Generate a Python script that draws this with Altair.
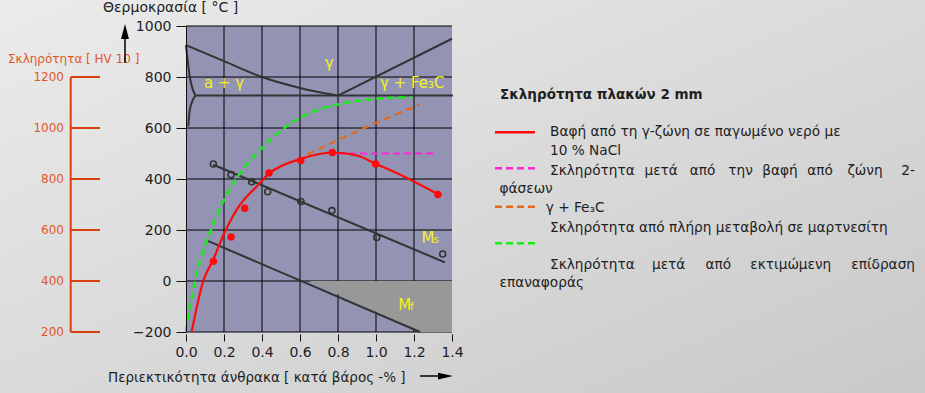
import altair as alt
import pandas as pd

FONT = "DejaVu Sans"

# ---------------- axis ticks ----------------
carbon_ticks = [0.0, 0.2, 0.4, 0.6, 0.8, 1.0, 1.2, 1.4]
carbon_grid = [0.2, 0.4, 0.6, 0.8, 1.0, 1.2]
temp_ticks = [-200, 0, 200, 400, 600, 800, 1000]
hv_ticks = [200, 400, 600, 800, 1000, 1200]
HV_SHIFT = 400  # 200 HV <-> -200 °C, 1200 HV <-> 800 °C

# ---------------- phase boundaries (°C) ----------------
a3_c = [0.0, 0.2, 0.4, 0.6, 0.8]
a3_t = [925, 862, 800, 757, 727]
acm_c = [0.8, 1.4]
acm_t = [727, 950]
eut_c = [0.05, 1.405]
eut_t = [727, 727]
ag_up_c = [0.0, 0.02, 0.05]
ag_up_t = [925, 800, 727]
ag_lo_c = [0.012, 0.02, 0.05]
ag_lo_t = [607, 672, 727]

ms_line_c = [0.144, 1.363]
ms_line_t = [456, 73]
ms_pts_c = [0.144, 0.237, 0.346, 0.43, 0.605, 0.768, 1.004, 1.351]
ms_pts_t = [459, 417, 389, 350, 312, 276, 171, 106]
mf_line_c = [0.109, 1.232]
mf_line_t = [159, -200]
mf_zone_c = [0.65, 1.232, 1.4]
mf_zone_top = [0, 0, 0]
mf_zone_bot = [0, -200, -200]

# ---------------- hardness (HV 10) ----------------
quench_pts_c = [0.144, 0.237, 0.309, 0.437, 0.604, 0.77, 0.998, 1.326]
quench_pts_hv = [477, 573, 685, 824, 873, 904, 859, 739]
quench_c = [0.03, 0.091, 0.144, 0.2, 0.267, 0.372, 0.442, 0.6, 0.77, 0.9, 1.0, 1.144, 1.33]
quench_hv = [202, 400, 485, 585, 680, 771, 824, 878, 904, 892, 859, 811, 739]
twophase_c = [0.8, 1.3]
twophase_hv = [900, 900]
fe3c_c = [0.64, 0.8, 1.0, 1.23]
fe3c_hv = [897, 953, 1020, 1092]
martensite_c = [0.0, 0.047, 0.1, 0.15, 0.2, 0.25, 0.3, 0.4, 0.53, 0.653, 0.8, 0.968, 1.19]
martensite_hv = [202, 400, 536, 635, 718, 785, 837, 922, 1007, 1059, 1092, 1112, 1121]

# ---------------- in-plot labels ----------------
zone_text = ["a + γ", "γ", "γ + Fe₃C"]
zone_c = [0.2, 0.753, 1.021]
zone_t = [755, 837, 757]
zone_align = ["center", "center", "left"]

# ---------------- texts ----------------
temp_title = "Θερμοκρασία [ °C ]"
hv_title = "Σκληρότητα [ HV 10 ]"
x_title = "Περιεκτικότητα άνθρακα [ κατά βάρος -% ]"
legend_title = "Σκληρότητα πλακών 2 mm"

# ---------------- style ----------------
W, H = 266, 306
PLOT_BG = "#9393b4"
GRAY = "#989898"
DARK = "#333333"
RED = "#ff0a0a"
GREEN = "#14ee14"
MAGENTA = "#ff26d4"
ORANGE = "#e36a1c"
YELLOW = "#f2f21c"
RED_AX = "#d9400e"
RED_TXT = "#e0582a"
TXT = "#1e1e1e"
FS = 14
LFS = 13.7

xs = alt.Scale(domain=[0, 1.4], nice=False, zero=False)
ys = alt.Scale(domain=[-200, 1000], nice=False, zero=False)
xax = alt.Axis(values=carbon_ticks, format=".1f", title=None, grid=False, domain=False,
               tickSize=7, tickColor="#111", tickWidth=1, offset=2, labelPadding=4,
               labelFont=FONT, labelFontSize=FS, labelColor=TXT, labelFlush=False,
               labelOverlap=False, zindex=1)
yax = alt.Axis(values=temp_ticks, format="d", title=None, grid=False, domain=True,
               domainColor="#111", domainWidth=1, tickSize=10, tickColor="#111",
               labelPadding=5, labelFont=FONT, labelFontSize=FS, labelColor=TXT,
               labelFlush=False, labelOverlap=False, zindex=1)


def X(f="c"):
    return alt.X(f"{f}:Q", scale=xs, axis=xax)


def Y(f="t"):
    return alt.Y(f"{f}:Q", scale=ys, axis=yax)


def one():
    return alt.InlineData(values=[{"k": 0}])


def ptxt(s, x, y, size=LFS, color=TXT, align="left", weight="normal", baseline="middle"):
    return alt.Chart(one()).mark_text(text=s, align=align, baseline=baseline, fontSize=size,
                                      font=FONT, color=color, fontWeight=weight).encode(
        x=alt.value(x), y=alt.value(y))


def hv_line(c, hv, color, dash=None, width=2.2):
    kw = dict(color=color, strokeWidth=width, interpolate="monotone")
    if dash:
        kw["strokeDash"] = dash
    return alt.Chart(pd.DataFrame({"c": c, "hv": hv})).transform_calculate(
        t=f"datum.hv - {HV_SHIFT}").mark_line(**kw).encode(x=X(), y=Y())


layers = []

# page background (gradient) and plot background
grad = alt.Gradient(gradient="linear", x1=0, y1=0, x2=1, y2=1,
                    stops=[alt.GradientStop(color="#ebebeb", offset=0),
                           alt.GradientStop(color="#c9c9c9", offset=1)])
layers.append(alt.Chart(one()).mark_rect(fill=grad).encode(
    x=alt.value(-186), x2=alt.value(739), y=alt.value(-26), y2=alt.value(367)))
layers.append(alt.Chart(one()).mark_rect(fill=PLOT_BG).encode(
    x=alt.value(0), x2=alt.value(W), y=alt.value(0), y2=alt.value(H)))

# grid
layers.append(alt.Chart(pd.DataFrame({"c": carbon_grid})).mark_rule(color="#000", strokeWidth=1).encode(
    x=X(), y=alt.value(0), y2=alt.value(H)))
layers.append(alt.Chart(pd.DataFrame({"t": temp_ticks})).mark_rule(color="#000", strokeWidth=1).encode(
    y=Y(), x=alt.value(0), x2=alt.value(W)))

# Mf zone
layers.append(alt.Chart(pd.DataFrame({"c": mf_zone_c, "t": mf_zone_top, "t2": mf_zone_bot}))
              .mark_area(color=GRAY, opacity=1, interpolate="linear")
              .encode(x=X(), y=Y(), y2=alt.Y2("t2:Q")))


# phase-diagram lines
def series(name, c, t):
    return pd.DataFrame({"c": c, "t": t, "s": name})


phase_df = pd.concat([
    series("A3", a3_c, a3_t), series("Acm", acm_c, acm_t), series("eut", eut_c, eut_t),
    series("ag_up", ag_up_c, ag_up_t), series("ag_lo", ag_lo_c, ag_lo_t),
    series("Ms", ms_line_c, ms_line_t), series("Mf", mf_line_c, mf_line_t),
], ignore_index=True)
layers.append(alt.Chart(phase_df).mark_line(color=DARK, strokeWidth=2, interpolate="monotone").encode(
    x=X(), y=Y(), detail="s:N"))

# hardness curves
layers.append(hv_line(martensite_c, martensite_hv, GREEN, [7, 4], 2.4))
layers.append(hv_line(fe3c_c, fe3c_hv, ORANGE, [7, 5], 2.2))
layers.append(hv_line(twophase_c, twophase_hv, MAGENTA, [7, 4], 2.2))
layers.append(hv_line(quench_c, quench_hv, RED, None, 2.2))

# points
layers.append(alt.Chart(pd.DataFrame({"c": ms_pts_c, "t": ms_pts_t})).mark_point(
    shape="circle", filled=False, color=DARK, strokeWidth=1.6, size=36, opacity=1).encode(x=X(), y=Y()))
layers.append(alt.Chart(pd.DataFrame({"c": quench_pts_c, "hv": quench_pts_hv})).transform_calculate(
    t=f"datum.hv - {HV_SHIFT}").mark_circle(color=RED, size=55, opacity=1).encode(x=X(), y=Y()))

# zone labels
for s, c, t, a in zip(zone_text, zone_c, zone_t, zone_align):
    layers.append(alt.Chart(pd.DataFrame({"c": [c], "t": [t]})).mark_text(
        text=s, align=a, baseline="alphabetic", fontSize=15, font=FONT, color=YELLOW).encode(x=X(), y=Y()))
# Ms / Mf with subscripts
for s, c, t, size in [("M", 1.24, 149, 15), ("s", 1.301, 149, 11),
                      ("M", 1.117, -112, 15), ("f", 1.179, -114, 11)]:
    layers.append(alt.Chart(pd.DataFrame({"c": [c], "t": [t]})).mark_text(
        text=s, align="left", baseline="alphabetic", fontSize=size, font=FONT, color=YELLOW).encode(x=X(), y=Y()))

# hardness axis (red), drawn through the shared temperature scale
hv_df = pd.DataFrame({"hv": hv_ticks})
layers.append(alt.Chart(hv_df).transform_calculate(t=f"datum.hv - {HV_SHIFT}").mark_rule(
    color=RED_AX, strokeWidth=2).encode(x=alt.value(-115.3), x2=alt.value(-86), y=Y()))
layers.append(alt.Chart(pd.DataFrame({"lo": [min(hv_ticks)], "hi": [max(hv_ticks)]})).transform_calculate(
    t=f"datum.lo - {HV_SHIFT}", t2=f"datum.hi - {HV_SHIFT}").mark_rule(
    color=RED_AX, strokeWidth=2).encode(x=alt.value(-115.3), y=Y(), y2=alt.Y2("t2:Q")))
layers.append(alt.Chart(hv_df).transform_calculate(t=f"datum.hv - {HV_SHIFT}").mark_text(
    align="right", baseline="middle", fontSize=12, font=FONT, color=RED_TXT).encode(
    x=alt.value(-122), y=Y(), text=alt.Text("hv:Q", format="d")))

# axis titles and arrows
layers.append(ptxt(hv_title, -178, 33, size=12, color=RED_TXT))
layers.append(ptxt(temp_title, -83, -18, size=FS))
layers.append(ptxt(x_title, -78, 356, size=13.5, baseline="alphabetic"))
layers.append(alt.Chart(one()).mark_rule(color="#000", strokeWidth=1.5).encode(
    x=alt.value(-61), y=alt.value(13), y2=alt.value(37)))
layers.append(alt.Chart(one()).mark_point(shape="M0,-1L0.53,1L-0.53,1Z", filled=True, size=225,
                                          color="#000", opacity=1, strokeWidth=0).encode(
    x=alt.value(-61), y=alt.value(5.5)))
layers.append(alt.Chart(one()).mark_rule(color="#000", strokeWidth=1.5).encode(
    x=alt.value(234), x2=alt.value(253), y=alt.value(350)))
layers.append(alt.Chart(one()).mark_point(shape="M1,0L-1,-0.45L-1,0.45Z", filled=True, size=225,
                                          color="#000", opacity=1, strokeWidth=0).encode(
    x=alt.value(259.5), y=alt.value(350)))

# legend
LX0, LX1 = 309, 349
layers.append(ptxt(legend_title, 314, 69, size=13.5, weight="bold"))
layers.append(alt.Chart(one()).mark_rule(color=RED, strokeWidth=2.5).encode(
    x=alt.value(LX0), x2=alt.value(LX1), y=alt.value(106.3)))
layers.append(alt.Chart(one()).mark_rule(color=MAGENTA, strokeWidth=2.5, strokeDash=[7, 4]).encode(
    x=alt.value(LX0), x2=alt.value(LX1), y=alt.value(142.3)))
layers.append(alt.Chart(one()).mark_rule(color=ORANGE, strokeWidth=2.5, strokeDash=[7, 4]).encode(
    x=alt.value(LX0), x2=alt.value(LX1), y=alt.value(180.7)))
layers.append(alt.Chart(one()).mark_rule(color=GREEN, strokeWidth=2.5, strokeDash=[7, 4]).encode(
    x=alt.value(LX0), x2=alt.value(LX1), y=alt.value(217.3)))

layers.append(ptxt("Βαφή από τη γ-ζώνη σε παγωμένο νερό με", 364, 106))
layers.append(ptxt("10 % NaCl", 364, 125))
lineA = ["Σκληρότητα", "μετά", "από", "την", "βαφή", "από", "ζώνη", "2-"]
lineA_x = [364, 475.2, 516.5, 554.5, 594, 634, 679, 729]
for i, (w, x) in enumerate(zip(lineA, lineA_x)):
    a = "left" if i == 0 else ("right" if i == len(lineA) - 1 else "center")
    layers.append(ptxt(w, x, 145, align=a))
layers.append(ptxt("φάσεων", 313.5, 163))
layers.append(ptxt("γ + Fe₃C", 359.7, 182.3))
layers.append(ptxt("Σκληρότητα από πλήρη μεταβολή σε μαρτνεσίτη", 364, 202.3))
lineB = ["Σκληρότητα", "μετά", "από", "εκτιμώμενη", "επίδραση"]
lineB_x = [364, 482.7, 532.3, 604.8, 729]
for i, (w, x) in enumerate(zip(lineB, lineB_x)):
    a = "left" if i == 0 else ("right" if i == len(lineB) - 1 else "center")
    layers.append(ptxt(w, x, 239, align=a))
layers.append(ptxt("επαναφοράς", 313.5, 257.3))

chart = alt.layer(*layers).properties(
    width=W, height=H,
    autosize=alt.AutoSizeParams(type="none"),
    padding={"left": 186, "top": 26, "right": 473, "bottom": 61},
).configure(background="#d9d9d9").configure_view(stroke=None)

chart.save("out.html", embed_options={"renderer": "svg", "actions": False})
